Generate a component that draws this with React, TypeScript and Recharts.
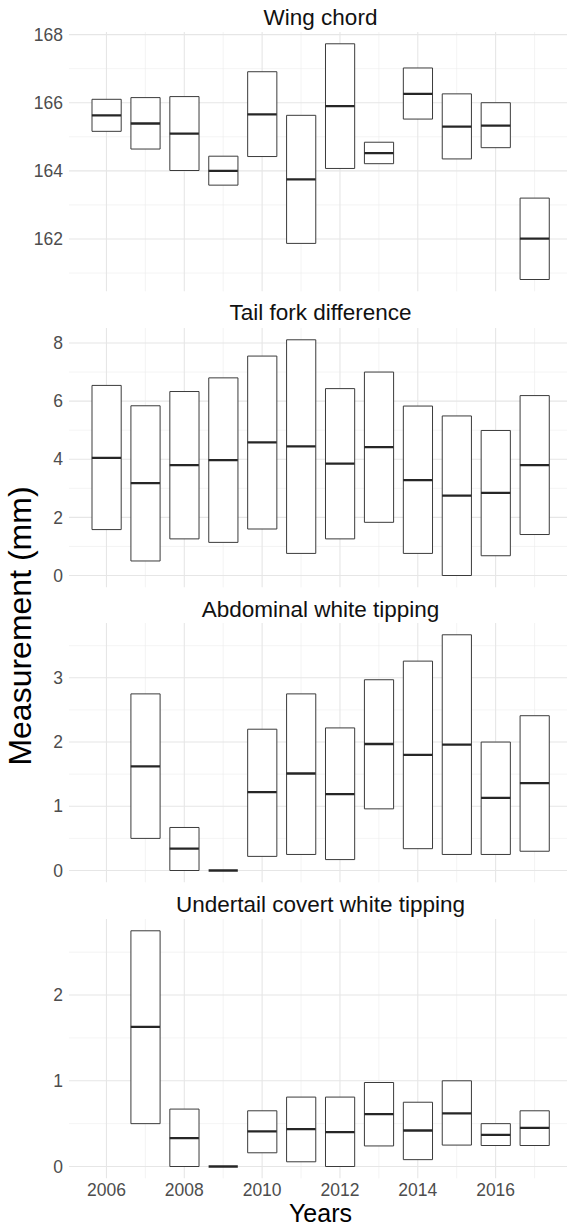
import { ComposedChart, Bar, Scatter, XAxis, YAxis, CartesianGrid } from 'recharts';

const years = [2006, 2007, 2008, 2009, 2010, 2011, 2012, 2013, 2014, 2015, 2016, 2017];
const yearTicks = [2006, 2008, 2010, 2012, 2014, 2016];
const yearMinor = [2007, 2009, 2011, 2013, 2015, 2017];

const wingHigh = [166.1, 166.15, 166.18, 164.43, 166.91, 165.63, 167.73, 164.84, 167.02, 166.26, 166.0, 163.2];
const wingMean = [165.63, 165.39, 165.09, 164.0, 165.66, 163.75, 165.9, 164.52, 166.26, 165.3, 165.33, 162.01];
const wingLow = [165.16, 164.64, 164.01, 163.58, 164.42, 161.87, 164.07, 164.21, 165.52, 164.35, 164.68, 160.81];

const tailHigh = [6.54, 5.84, 6.33, 6.8, 7.55, 8.11, 6.43, 7.0, 5.83, 5.49, 4.99, 6.19];
const tailMean = [4.05, 3.18, 3.8, 3.97, 4.58, 4.44, 3.85, 4.42, 3.28, 2.75, 2.84, 3.8];
const tailLow = [1.58, 0.5, 1.26, 1.14, 1.6, 0.76, 1.26, 1.83, 0.76, 0.0, 0.68, 1.41];

const abdHigh = [null, 2.75, 0.67, 0, 2.2, 2.75, 2.22, 2.97, 3.26, 3.67, 2.0, 2.41];
const abdMean = [null, 1.62, 0.34, 0, 1.22, 1.51, 1.19, 1.97, 1.8, 1.96, 1.13, 1.36];
const abdLow = [null, 0.5, 0, 0, 0.22, 0.25, 0.17, 0.96, 0.34, 0.25, 0.25, 0.3];

const utcHigh = [null, 2.75, 0.67, 0, 0.65, 0.81, 0.81, 0.98, 0.75, 1.0, 0.5, 0.65];
const utcMean = [null, 1.63, 0.33, 0, 0.41, 0.435, 0.4, 0.61, 0.42, 0.62, 0.37, 0.45];
const utcLow = [null, 0.5, 0, 0, 0.16, 0.055, 0, 0.24, 0.08, 0.25, 0.245, 0.245];

const FONT = 'Arial, "Liberation Sans", sans-serif';
const CHART_W = 572;
const AXIS_W = 69;
const BOX_YEARS = 0.75;
const PAD_TOP = 14; // room so the top tick label is not at the svg edge
const PLOT_H = 259.3;

// x domain like ggplot: data extent (incl. box width) + 5% each side
const xLo = years[0] - BOX_YEARS / 2;
const xHi = years[years.length - 1] + BOX_YEARS / 2;
const xPad = (xHi - xLo) * 0.05;
const xDomain = [xLo - xPad, xHi + xPad];
const boxPx = (BOX_YEARS * (CHART_W - AXIS_W)) / (xDomain[1] - xDomain[0]);

type PanelDef = {
  title: string;
  high: (number | null)[];
  mean: (number | null)[];
  low: (number | null)[];
  major: number[];
  minor: number[];
  top: number;
  titleY: number;
};

const panels: PanelDef[] = [
  { title: 'Wing chord', high: wingHigh, mean: wingMean, low: wingLow, major: [162, 164, 166, 168], minor: [161, 163, 165, 167], top: 32.3, titleY: 18 },
  { title: 'Tail fork difference', high: tailHigh, mean: tailMean, low: tailLow, major: [0, 2, 4, 6, 8], minor: [1, 3, 5, 7], top: 327.7, titleY: 313.3 },
  { title: 'Abdominal white tipping', high: abdHigh, mean: abdMean, low: abdLow, major: [0, 1, 2, 3], minor: [0.5, 1.5, 2.5, 3.5], top: 623.3, titleY: 610 },
  { title: 'Undertail covert white tipping', high: utcHigh, mean: utcMean, low: utcLow, major: [0, 1, 2], minor: [0.5, 1.5, 2.5], top: 919.3, titleY: 905 },
];

const MeanLine = (props: any) => {
  const { cx, cy } = props;
  if (cx == null || cy == null) return <g />;
  return <line x1={cx - boxPx / 2} x2={cx + boxPx / 2} y1={cy} y2={cy} stroke="#262626" strokeWidth={2.3} />;
};

function Panel({ p, last }: { p: PanelDef; last: boolean }) {
  const rows = years
    .map((y, i) => ({ year: y, range: p.high[i] == null ? null : [p.low[i], p.high[i]], mean: p.mean[i] }))
    .filter((r) => r.range != null);
  const lows = p.low.filter((v) => v != null) as number[];
  const highs = p.high.filter((v) => v != null) as number[];
  const yMin = Math.min(...lows);
  const yMax = Math.max(...highs);
  const pad = (yMax - yMin) * 0.05;
  const xAxisH = last ? 26 : 0;
  const bottomPad = last ? 0 : 12;
  const h = PAD_TOP + PLOT_H + xAxisH + bottomPad;
  return (
    <div style={{ position: 'absolute', left: 0, top: p.top - PAD_TOP, width: CHART_W, height: h }}>
      <ComposedChart width={CHART_W} height={h} data={rows} margin={{ top: PAD_TOP, right: 0, bottom: bottomPad, left: 0 }}>
        <CartesianGrid horizontalValues={p.minor} verticalValues={yearMinor} stroke="#ededed" strokeWidth={0.6} strokeDasharray="" />
        <CartesianGrid horizontalValues={p.major} verticalValues={yearTicks} stroke="#e6e6e6" strokeWidth={1.1} strokeDasharray="" />
        <XAxis
          dataKey="year"
          type="number"
          domain={xDomain}
          allowDataOverflow
          ticks={yearTicks}
          hide={!last}
          height={xAxisH}
          tickLine={false}
          axisLine={false}
          tickSize={0}
          tickMargin={5}
          tick={{ fill: '#4d4d4d', fontSize: 17.5, fontFamily: FONT }}
        />
        <YAxis
          type="number"
          domain={[yMin - pad, yMax + pad]}
          allowDataOverflow
          ticks={p.major}
          width={AXIS_W}
          tickLine={false}
          axisLine={false}
          tickSize={0}
          tickMargin={6}
          tick={{ fill: '#4d4d4d', fontSize: 17.5, fontFamily: FONT }}
        />
        <Bar dataKey="range" barSize={boxPx} fill="#ffffff" stroke="#3a3a3a" strokeWidth={1} isAnimationActive={false} />
        <Scatter dataKey="mean" shape={MeanLine} isAnimationActive={false} />
      </ComposedChart>
    </div>
  );
}

export default function App() {
  return (
    <div style={{ position: 'absolute', left: 0, top: 0, width: 567, height: 1228, overflow: 'hidden', background: '#fff', fontFamily: FONT }}>
      {panels.map((p, i) => (
        <div key={p.title}>
          <div style={{ position: 'absolute', left: AXIS_W, width: CHART_W - AXIS_W, top: p.titleY - 14, height: 28, lineHeight: '28px', textAlign: 'center', fontSize: 22.5, color: '#111' }}>
            {p.title}
          </div>
          <Panel p={p} last={i === panels.length - 1} />
        </div>
      ))}
      <div style={{ position: 'absolute', left: AXIS_W, width: CHART_W - AXIS_W, top: 1202, height: 23, lineHeight: '23px', textAlign: 'center', fontSize: 25, color: '#000' }}>
        Years
      </div>
      <div style={{ position: 'absolute', left: 20, top: 626, width: 0, height: 0 }}>
        <div style={{ position: 'absolute', left: -200, top: -18, width: 400, height: 36, lineHeight: '36px', textAlign: 'center', fontSize: 32, color: '#000', transform: 'rotate(-90deg)', whiteSpace: 'nowrap' }}>
          Measurement (mm)
        </div>
      </div>
    </div>
  );
}
